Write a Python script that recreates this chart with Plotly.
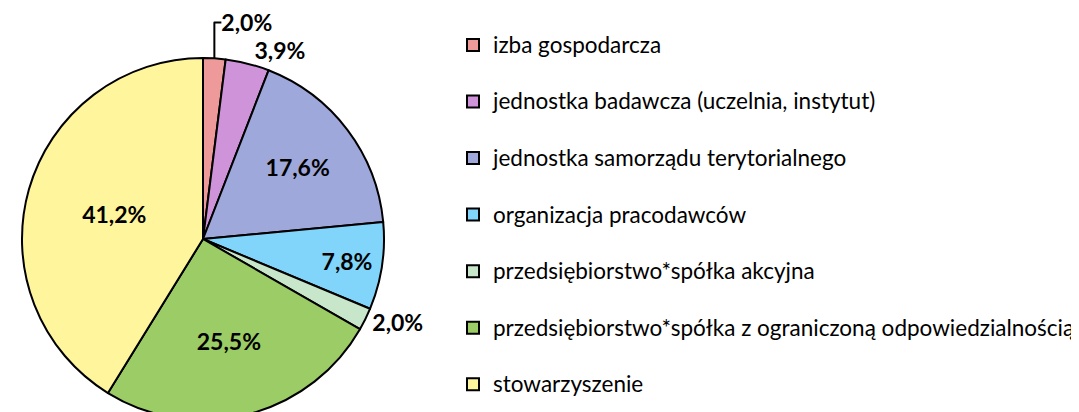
import plotly.graph_objects as go

categories = [
    "izba gospodarcza",
    "jednostka badawcza (uczelnia, instytut)",
    "jednostka samorządu terytorialnego",
    "organizacja pracodawców",
    "przedsiębiorstwo*spółka akcyjna",
    "przedsiębiorstwo*spółka z ograniczoną odpowiedzialnością",
    "stowarzyszenie",
]
values = [2.0, 3.9, 17.6, 7.8, 2.0, 25.5, 41.2]
colors = ["#EF9A9A", "#CE93D8", "#9FA8DA", "#81D4FA", "#C8E6C9", "#9CCC65", "#FFF59D"]
text_pos = ["outside", "outside", "inside", "inside", "outside", "inside", "inside"]

labels_text = [f"{v:.1f}%".replace(".", ",") for v in values]
legend_labels = [f'<span style="font-size:22.5px">{c}</span><br> ' for c in categories]

W, H = 1079, 412
pie_top = 50
R = (H - pie_top) / 2
cx = 195

lab_font = dict(family="Lato", size=23, color="black", weight="bold")

fig = go.Figure(go.Pie(
    labels=legend_labels,
    values=values,
    text=labels_text,
    textinfo="text",
    textposition=text_pos,
    insidetextorientation="horizontal",
    sort=False,
    direction="clockwise",
    rotation=0,
    marker=dict(colors=colors, line=dict(color="black", width=2)),
    textfont=lab_font,
    outsidetextfont=lab_font,
    insidetextfont=lab_font,
    domain=dict(x=[(cx - R) / W, (cx + R) / W], y=[0, (H - pie_top) / H]),
    hoverinfo="percent",
))

fig.update_layout(
    width=W, height=H,
    margin=dict(l=0, r=0, t=0, b=0, autoexpand=False),
    paper_bgcolor="white",
    plot_bgcolor="white",
    showlegend=True,
    legend=dict(
        xref="paper", yref="paper",
        x=445 / W, y=1 - 17 / H,
        xanchor="left", yanchor="top",
        font=dict(family="Lato", size=20.6, color="black"),
        valign="top",
        traceorder="normal",
        bgcolor="rgba(0,0,0,0)",
        maxheight=1,
    ),
)

fig.write_html("out.html")
